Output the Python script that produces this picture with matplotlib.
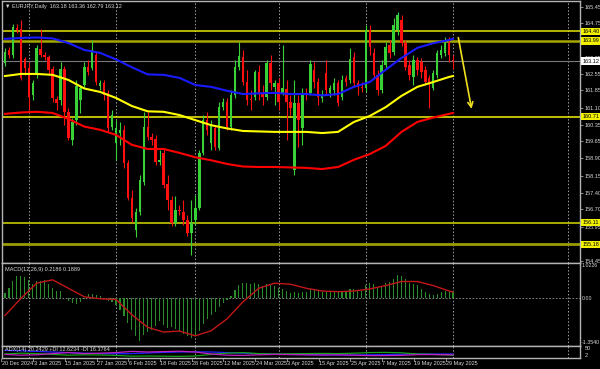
import matplotlib
matplotlib.use('Agg')
import matplotlib.pyplot as plt

# ---------------- data ----------------
opens = [163.03,163.60,163.39,164.56,164.52,163.21,162.83,161.65,162.52,163.65,
         163.39,163.30,162.78,161.48,161.43,162.78,160.91,159.70,160.56,161.43,
         162.09,162.87,162.83,163.39,162.04,162.17,161.74,160.26,159.57,160.00,
         160.13,158.70,157.18,155.80,156.58,157.87,160.26,159.83,159.74,158.74,
         159.14,157.79,157.09,156.10,156.67,156.58,156.23,155.67,156.23,156.75,
         159.14,160.56,159.57,160.22,159.35,161.13,161.34,160.26,161.65,162.87,
         163.30,162.21,161.48,161.56,162.65,161.74,161.56,163.03,162.00,162.17,
         161.74,161.91,161.34,158.40,161.30,160.22,161.74,161.74,162.74,162.21,
         161.52,162.61,161.74,161.87,162.17,161.56,162.39,162.30,163.30,162.17,
         162.00,161.96,164.47,163.47,162.52,161.87,162.96,163.82,163.52,164.47,
         164.90,163.91,162.96,162.43,163.17,163.08,162.74,162.39,161.96,162.52,
         163.39,163.47,163.91,163.18]
highs = [163.69,163.74,164.73,164.73,164.90,163.30,163.08,162.30,163.82,164.52,
         163.52,163.39,162.91,161.61,163.08,162.91,161.09,160.65,162.30,162.09,
         163.08,163.17,164.03,163.52,162.30,162.30,161.87,161.00,160.56,160.48,
         160.34,158.83,157.53,156.75,158.18,160.91,160.91,160.00,159.92,159.27,
         159.36,158.18,157.27,157.27,156.89,157.09,156.45,157.09,157.31,159.27,
         160.78,160.91,160.56,160.34,161.34,161.52,161.52,161.87,163.17,163.96,
         163.60,162.74,161.87,162.74,162.96,162.09,163.17,163.39,162.30,162.39,
         163.82,162.30,161.65,162.30,161.65,161.96,161.96,163.17,163.08,162.39,
         161.87,163.17,162.09,162.39,162.30,162.52,162.52,163.69,163.52,162.30,
         162.21,164.69,164.69,163.69,162.74,163.17,163.96,164.03,165.00,165.25,
         165.12,164.03,163.17,163.39,163.30,163.25,162.91,162.52,162.74,163.60,
         163.82,164.16,164.16,163.36]
lows = [162.91,163.25,163.25,164.34,162.30,162.52,161.00,161.43,162.39,163.30,
        163.17,162.52,161.34,161.00,161.21,160.34,159.70,159.48,160.34,160.87,
        161.96,162.52,162.74,162.09,161.87,161.43,160.05,160.13,158.83,159.48,
        158.48,157.09,156.14,155.49,156.45,157.74,159.70,159.48,158.61,158.61,
        157.61,156.67,155.97,155.97,156.45,156.01,155.54,154.71,156.01,156.67,
        159.05,159.92,159.27,159.27,159.27,161.00,160.13,160.13,161.52,162.74,
        162.09,161.21,161.00,161.43,161.43,161.21,161.43,161.87,161.21,161.00,
        161.65,159.70,160.78,158.18,159.39,159.48,161.43,161.65,161.96,161.21,
        161.34,161.65,161.56,161.65,161.17,161.43,162.04,162.17,162.04,161.65,
        161.78,161.78,163.39,162.39,161.65,161.74,162.83,163.25,163.39,164.25,
        163.78,162.74,162.30,162.09,162.52,162.39,162.09,161.09,161.87,162.39,
        163.25,163.34,163.08,162.79]
closes = [163.52,163.39,164.60,164.47,162.39,162.83,161.56,162.17,163.69,163.39,
          163.30,162.74,161.52,161.30,162.78,160.91,159.78,160.48,162.04,161.96,
          162.87,162.65,163.60,162.21,162.17,161.65,160.22,160.78,160.22,160.13,
          158.70,157.18,156.32,156.58,157.96,160.26,159.83,159.70,158.74,158.83,
          157.74,157.09,156.10,156.67,156.62,156.23,155.67,156.10,156.75,159.14,
          160.56,160.13,160.34,159.39,161.13,161.34,160.26,161.65,162.87,163.34,
          162.21,161.43,161.43,162.65,161.74,161.56,163.03,162.17,162.17,161.34,
          161.96,161.34,161.08,161.30,160.56,161.74,161.65,163.00,162.21,161.56,
          161.65,161.87,161.96,162.17,161.30,162.30,162.21,163.21,162.17,162.00,
          161.96,164.47,163.74,162.52,161.87,162.96,163.74,163.47,164.69,165.12,
          163.91,162.87,162.52,163.17,162.74,162.65,162.21,162.09,162.61,163.47,
          163.60,163.91,163.39,163.12]

# moving averages, read every 4 bars
ma_idx = [0,4,8,12,16,20,24,28,32,36,40,44,48,52,56,60,64,68,72,76,80,84,88,92,96,100,104,108,112,113]
ma_blue = [164.08,164.12,164.14,164.10,163.90,163.60,163.47,163.19,162.85,162.54,162.52,162.39,162.08,162.00,
           161.83,161.69,161.72,161.74,161.69,161.69,161.63,161.69,162.00,162.21,162.74,163.25,163.69,163.89,164.03,164.08]
ma_yellow = [162.47,162.56,162.56,162.52,162.30,161.93,161.78,161.52,161.17,160.94,160.92,160.78,160.56,160.34,
             160.20,160.09,160.07,160.05,160.05,160.05,160.00,160.05,160.48,160.74,161.12,161.61,162.00,162.21,162.43,162.47]
ma_red = [160.83,160.89,160.92,160.87,160.61,160.28,160.14,159.92,159.49,159.31,159.31,159.14,158.95,158.82,
          158.66,158.55,158.53,158.53,158.51,158.49,158.44,158.53,158.84,159.09,159.44,160.05,160.48,160.67,160.83,160.87]

# horizontal levels
levels = [164.40, 163.99, 160.71, 156.11, 155.18]
level_colors = ['#e6e600', '#a6a600', '#f2f200', '#d9d900', '#9c9c00']
level_widths = [1.1, 1.8, 1.1, 1.1, 2.0]
last_price = 163.12

price_ticks = [165.45,164.75,163.25,162.55,161.85,161.10,160.35,159.65,158.90,158.15,157.40,156.70,155.95,154.45]

# MACD
macd_main = [0.17,0.32,0.51,0.66,0.66,0.63,0.53,0.44,0.51,0.51,
             0.53,0.44,0.32,0.22,0.22,0.02,-0.08,-0.13,-0.16,-0.11,
             -0.03,0.12,0.14,0.10,0.07,-0.03,-0.08,-0.10,-0.18,-0.33,
             -0.52,-0.72,-0.92,-1.12,-1.25,-1.07,-0.99,-0.92,-0.82,-0.67,
             -0.77,-0.87,-0.85,-0.89,-0.95,-1.05,-1.12,-1.17,-1.12,-0.95,
             -0.75,-0.60,-0.48,-0.40,-0.25,-0.12,-0.05,0.08,0.25,0.40,
             0.45,0.45,0.42,0.45,0.42,0.38,0.42,0.40,0.36,0.30,
             0.28,0.22,0.15,0.18,0.15,0.20,0.20,0.28,0.27,0.22,
             0.20,0.20,0.20,0.22,0.18,0.20,0.20,0.28,0.27,0.24,
             0.22,0.40,0.45,0.42,0.35,0.38,0.45,0.48,0.58,0.70,
             0.66,0.56,0.47,0.44,0.39,0.29,0.20,0.12,0.10,0.14,
             0.19,0.22,0.22,0.22]
sig_idx = ma_idx
macd_signal = [-0.50,0.00,0.45,0.55,0.30,0.05,-0.01,-0.03,-0.48,-0.85,-0.99,-0.96,-1.10,-0.95,
               -0.60,-0.10,0.30,0.45,0.42,0.30,0.22,0.20,0.22,0.28,0.38,0.50,0.50,0.38,0.22,0.19]

# ADX
adx_idx = ma_idx
adx_main = [38,36,33,30,27,24,22,21,22,25,28,30,31,30,27,24,21,19,18,17,16,15,15,16,17,19,20,20,20,20]
adx_plus = [20,24,22,18,14,16,15,13,9,10,9,8,10,18,24,27,22,20,21,22,23,22,24,27,28,26,20,18,15,13]
adx_minus = [18,14,16,22,27,22,24,27,33,30,32,34,30,20,14,13,16,18,17,16,15,16,14,12,12,13,17,17,16,16]

date_idx = [0,8,16,24,32,40,48,56,64,72,80,88,96,104,112]
date_labels = ['20 Dec 2024','3 Jan 2025','15 Jan 2025','27 Jan 2025','6 Feb 2025','18 Feb 2025',
               '28 Feb 2025','12 Mar 2025','24 Mar 2025','3 Apr 2025','15 Apr 2025','25 Apr 2025',
               '7 May 2025','19 May 2025','29 May 2025']
separators = [6, 28, 48, 69, 91, 113, 142]

# ---------------- layout ----------------
W, H = 600, 369
BAR0, STEP = 5.0, 3.965          # pixel position of bar 0 and bar spacing
XL, XR = 2, 580
FONT = ['Liberation Sans Narrow', 'Liberation Sans', 'DejaVu Sans']
plt.rcParams['font.family'] = FONT
fig = plt.figure(figsize=(6.0, 3.69), dpi=100, facecolor='black')

def add_ax(y0, y1):
    ax = fig.add_axes([XL / W, 1 - y1 / H, (XR - XL) / W, (y1 - y0) / H])
    ax.set_facecolor('black')
    ax.set_xlim((XL - BAR0) / STEP, (XR - BAR0) / STEP)
    for s in ax.spines.values():
        s.set_color('#b4b4b4')
        s.set_linewidth(1.0)
    ax.tick_params(axis='x', bottom=False, labelbottom=False)
    return ax

GRID = '#a0a0a0'
TXT = '#d8d8d8'
FS = 4.0

# ---- price panel ----
ax = add_ax(1, 263)
ax.set_ylim(154.37, 165.72)
n = len(opens)
idx = list(range(n))
bull, bear = '#38d238', '#ff1010'
cols = [bull if c >= o else bear for o, c in zip(opens, closes)]
ax.vlines(idx, lows, highs, colors=cols, linewidth=0.8, zorder=3)
bottoms = [min(o, c) for o, c in zip(opens, closes)]
heights = [max(abs(c - o), 0.025) for o, c in zip(opens, closes)]
ax.bar(idx, heights, bottom=bottoms, width=0.62, color=cols, linewidth=0, zorder=4)

ax.plot(ma_idx, ma_blue, color='#1a1aff', lw=1.5, zorder=5)
ax.plot(ma_idx, ma_yellow, color='#ffff00', lw=1.5, zorder=5)
ax.plot(ma_idx, ma_red, color='#ff0000', lw=1.5, zorder=5)

for lv, lc, lw in zip(levels, level_colors, level_widths):
    ax.axhline(lv, color=lc, lw=lw, zorder=2)
ax.axhline(last_price, color='#7a7a7a', lw=0.8, zorder=2)

ax.annotate('', xy=(117.8, 160.93), xytext=(114.2, 164.25),
            arrowprops=dict(arrowstyle='->', color='#f0e020', lw=1.2, mutation_scale=9), zorder=6)

ax.yaxis.tick_right()
ax.set_yticks(price_ticks)
ax.set_yticklabels([f'{t:.2f}' for t in price_ticks])
ax.tick_params(axis='y', colors=GRID, labelsize=FS, length=2, width=0.6, pad=1, labelcolor=TXT)

ytr = ax.get_yaxis_transform()
for lv in levels:
    ax.text(1.0045, lv, f'{lv:.2f}', transform=ytr, fontsize=FS, color='black', va='center', ha='left',
            clip_on=False, zorder=10,
            bbox=dict(boxstyle='square,pad=0.2', fc='#f0f000', ec='none'))
ax.text(1.0045, last_price, f'{last_price:.2f}', transform=ytr, fontsize=FS, color='black', va='center', ha='left',
        clip_on=False, zorder=10, bbox=dict(boxstyle='square,pad=0.2', fc='white', ec='none'))

ax.text(0.006, 0.99, '\u25bc EURJPY,Daily  163.18 163.36 162.79 163.12', transform=ax.transAxes,
        fontsize=FS, color=TXT, va='top', ha='left')

# ---- MACD panel ----
am = add_ax(263, 346)
am.set_ylim(-1.40, 1.045)
am.bar(idx, macd_main, width=0.28, color='#2a8c2a', linewidth=0, zorder=3)
am.plot(sig_idx, macd_signal, color='#c01818', lw=1.0, zorder=4)
am.axhline(0, color='#9a9a9a', lw=0.6, ls=(0, (2, 2)), zorder=2)
am.yaxis.tick_right()
am.set_yticks([])
am.text(0.006, 0.95, 'MACD(12,26,9) 0.2186 0.1889', transform=am.transAxes, fontsize=FS, color=TXT, va='top')
amt = am.get_yaxis_transform()
for v, lab in [(0.96, '1.0226'), (0.0, '0.00'), (-1.30, '-1.3540')]:
    am.text(1.003, v, lab, transform=amt, fontsize=FS * 0.95, color=TXT, va='center', ha='left', clip_on=False)

# ---- ADX panel ----
aa = add_ax(346, 358)
aa.set_ylim(0, 60)
aa.plot(adx_idx, adx_main, color='#2020ff', lw=0.9)
aa.plot(adx_idx, adx_plus, color='#18a018', lw=0.9)
aa.plot(adx_idx, adx_minus, color='#c020c0', lw=0.9)
aa.set_yticks([])
aa.text(0.006, 0.9, 'ADX(14) 20.2429 +DI 12.6234 -DI 16.3764', transform=aa.transAxes, fontsize=FS, color=TXT, va='top')
aat = aa.get_yaxis_transform()
aa.text(1.008, 45, '50', transform=aat, fontsize=FS, color=TXT, va='center', ha='left', clip_on=False)
aa.text(1.008, 12, '2', transform=aat, fontsize=FS, color=TXT, va='center', ha='left', clip_on=False)

# date labels
axt = aa.get_xaxis_transform()
for di, lab in zip(date_idx, date_labels):
    aa.text(di - 0.8, -0.25, lab, transform=axt, fontsize=FS, color=TXT, va='top', ha='left', clip_on=False)
    aa.plot([di - 0.9, di - 0.9], [-0.05, -0.25], transform=axt, color=GRID, lw=0.6, clip_on=False)

# period separators
for a in (ax, am, aa):
    for s in separators:
        a.axvline(s, color=GRID, lw=0.7, ls=(0, (1.5, 2)), zorder=1)

fig.savefig('out.png', dpi=100, facecolor='black')
